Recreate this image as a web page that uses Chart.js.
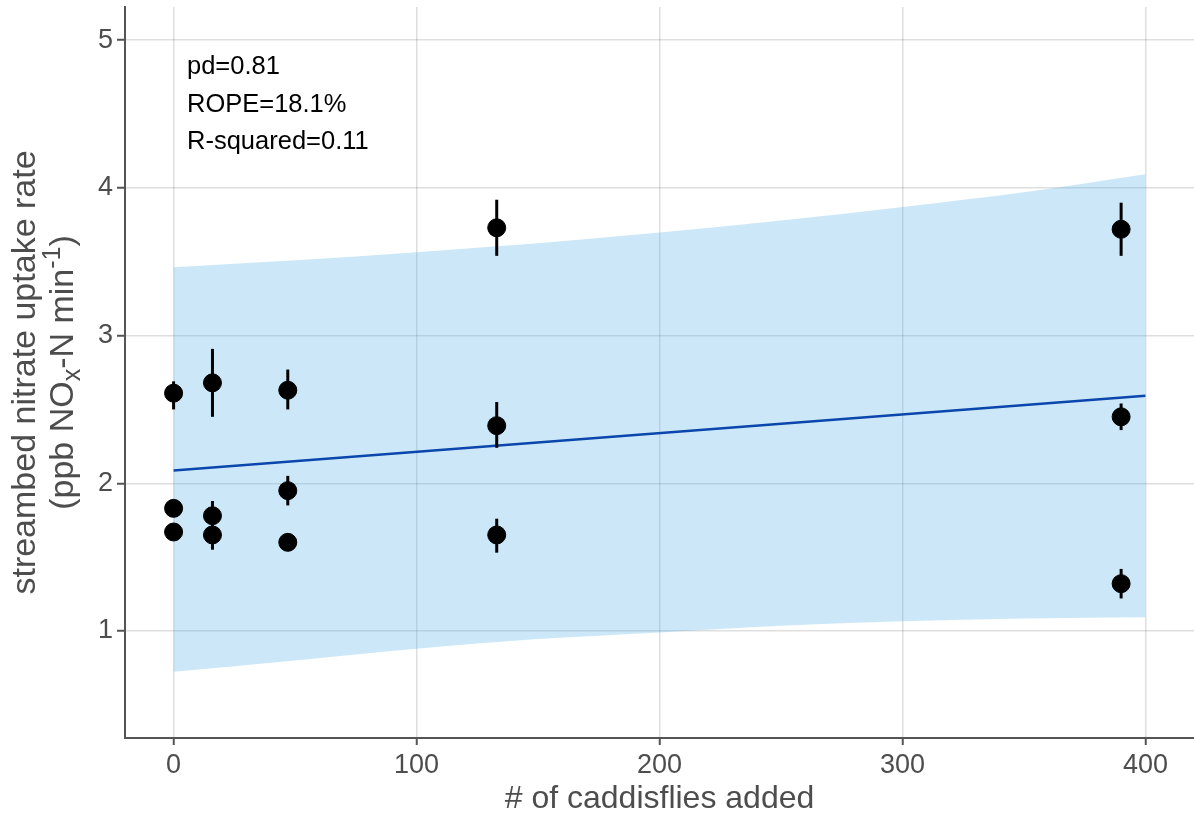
<!DOCTYPE html>
<html>
<head>
<meta charset="utf-8">
<script src="https://cdn.jsdelivr.net/npm/chart.js@4"></script>
<style>
  html, body { margin: 0; padding: 0; background: #fff; }
  #chart { display: block; }
</style>
</head>
<body>
<canvas id="chart" width="1194" height="822"></canvas>
<script>
// caddisflies added per stream section, with posterior mean uptake and error bar ends
const caddisflies = [0, 0, 0, 16, 16, 16, 47, 47, 47, 133, 133, 133, 390, 390, 390];
const uptakeRate = [2.61, 1.83, 1.67, 2.68, 1.78, 1.65, 2.63, 1.95, 1.60, 3.73, 2.39, 1.65, 3.72, 2.45, 1.32];
const uptakeLow = [2.50, 1.80, 1.64, 2.45, 1.70, 1.55, 2.50, 1.85, 1.56, 3.54, 2.24, 1.53, 3.54, 2.36, 1.22];
const uptakeHigh = [2.69, 1.87, 1.70, 2.91, 1.88, 1.72, 2.77, 2.05, 1.64, 3.92, 2.55, 1.76, 3.90, 2.54, 1.42];

// regression line and its credible band
const fitX = [0, 400];
const fitY = [2.086, 2.593];
const bandX = [0, 50, 100, 150, 200, 250, 300, 350, 400];
const bandLow = [0.723, 0.80, 0.88, 0.945, 0.99, 1.035, 1.066, 1.085, 1.092];
const bandHigh = [3.463, 3.51, 3.565, 3.625, 3.698, 3.78, 3.871, 3.97, 4.092];

const xTicks = [0, 100, 200, 300, 400];
const yTicks = [1, 2, 3, 4, 5];
const statLines = ['pd=0.81', 'ROPE=18.1%', 'R-squared=0.11'];

const FONT = '"Liberation Sans", Arial, Helvetica, sans-serif';
const GREY = '#4d4d4d';
const AXIS = '#555555';
const GRID = 'rgba(0,0,0,0.13)';

Chart.defaults.font.family = FONT;

const pts = (xs, ys) => xs.map((x, i) => ({ x, y: ys[i] }));

// vertical error bars drawn through the scales
const errorBars = {
    id: 'errorBars',
    afterDatasetsDraw(chart) {
        const { ctx, scales: { x, y } } = chart;
        ctx.save();
        ctx.strokeStyle = '#000';
        ctx.lineWidth = 3;
        caddisflies.forEach((c, i) => {
            const px = x.getPixelForValue(c);
            ctx.beginPath();
            ctx.moveTo(px, y.getPixelForValue(uptakeLow[i]));
            ctx.lineTo(px, y.getPixelForValue(uptakeHigh[i]));
            ctx.stroke();
        });
        ctx.restore();
    }
};

// pd / ROPE / R-squared block in the upper left
const statsText = {
    id: 'statsText',
    afterDatasetsDraw(chart) {
        const { ctx, chartArea } = chart;
        ctx.save();
        ctx.fillStyle = '#000';
        ctx.font = '25.5px ' + FONT;
        ctx.textAlign = 'left';
        ctx.textBaseline = 'middle';
        statLines.forEach((t, i) => {
            ctx.fillText(t, chartArea.left + 62, chartArea.top + 60 + i * 37.5);
        });
        ctx.restore();
    }
};

// two-line y title with subscript and superscript
const yTitle = {
    id: 'yTitle',
    afterDraw(chart) {
        const { ctx, chartArea } = chart;
        const cy = (chartArea.top + chartArea.bottom) / 2;
        ctx.save();
        ctx.fillStyle = GREY;
        ctx.textBaseline = 'middle';

        ctx.save();
        ctx.translate(26, cy);
        ctx.rotate(-Math.PI / 2);
        ctx.font = '34px ' + FONT;
        ctx.textAlign = 'center';
        ctx.fillText('streambed nitrate uptake rate', 0, 0);
        ctx.restore();

        const parts = [
            { t: '(ppb NO', size: 34, dy: 0 },
            { t: 'x', size: 25, dy: 9 },
            { t: '-N min', size: 34, dy: 0 },
            { t: '-1', size: 25, dy: -11 },
            { t: ')', size: 34, dy: 0 }
        ];
        ctx.save();
        ctx.translate(64, cy);
        ctx.rotate(-Math.PI / 2);
        ctx.textAlign = 'left';
        let total = 0;
        parts.forEach(p => {
            ctx.font = p.size + 'px ' + FONT;
            p.w = ctx.measureText(p.t).width;
            total += p.w;
        });
        let cx = -total / 2;
        parts.forEach(p => {
            ctx.font = p.size + 'px ' + FONT;
            ctx.fillText(p.t, cx, p.dy);
            cx += p.w;
        });
        ctx.restore();
        ctx.restore();
    }
};

new Chart(document.getElementById('chart').getContext('2d'), {
    type: 'scatter',
    data: {
        datasets: [
            {
                label: 'observed',
                data: pts(caddisflies, uptakeRate),
                backgroundColor: '#000',
                borderColor: '#000',
                pointRadius: 9,
                pointHoverRadius: 9,
                order: 0
            },
            {
                label: 'fit',
                type: 'line',
                data: pts(fitX, fitY),
                showLine: true,
                borderColor: '#0b46ac',
                borderWidth: 2.5,
                pointRadius: 0,
                fill: false,
                order: 1
            },
            {
                label: 'band low',
                type: 'line',
                data: pts(bandX, bandLow),
                showLine: true,
                borderWidth: 0,
                borderColor: 'rgba(0,0,0,0)',
                pointRadius: 0,
                cubicInterpolationMode: 'monotone',
                fill: false,
                order: 2
            },
            {
                label: 'band high',
                type: 'line',
                data: pts(bandX, bandHigh),
                showLine: true,
                borderWidth: 0,
                borderColor: 'rgba(0,0,0,0)',
                backgroundColor: 'rgba(86,180,233,0.3)',
                pointRadius: 0,
                cubicInterpolationMode: 'monotone',
                fill: '-1',
                order: 3
            }
        ]
    },
    options: {
        responsive: false,
        animation: false,
        devicePixelRatio: 1,
        layout: { autoPadding: false, padding: { top: 7, right: 0, left: 0, bottom: 0 } },
        plugins: {
            legend: { display: false },
            tooltip: { enabled: false }
        },
        scales: {
            x: {
                type: 'linear',
                min: -20,
                max: 420,
                afterBuildTicks: s => { s.ticks = xTicks.map(v => ({ value: v })); },
                afterFit: s => { s.height = 84; s.paddingLeft = 0; s.paddingRight = 0; },
                grid: { color: GRID, lineWidth: 1.5, tickLength: 7, tickColor: AXIS, tickWidth: 2 },
                border: { color: AXIS, width: 2 },
                ticks: { color: GREY, font: { size: 27 }, padding: 4, maxRotation: 0 },
                title: {
                    display: true,
                    text: '# of caddisflies added',
                    color: GREY,
                    font: { size: 32 },
                    padding: { top: 0, bottom: 4 }
                }
            },
            y: {
                type: 'linear',
                min: 0.275,
                max: 5.225,
                afterBuildTicks: s => { s.ticks = yTicks.map(v => ({ value: v })); },
                afterFit: s => { s.width = 125; s.paddingTop = 0; s.paddingBottom = 0; },
                grid: { color: GRID, lineWidth: 1.5, tickLength: 8, tickColor: AXIS, tickWidth: 2 },
                border: { color: AXIS, width: 2 },
                ticks: { color: GREY, font: { size: 27 }, padding: 4 }
            }
        }
    },
    plugins: [errorBars, statsText, yTitle]
});
</script>
</body>
</html>
